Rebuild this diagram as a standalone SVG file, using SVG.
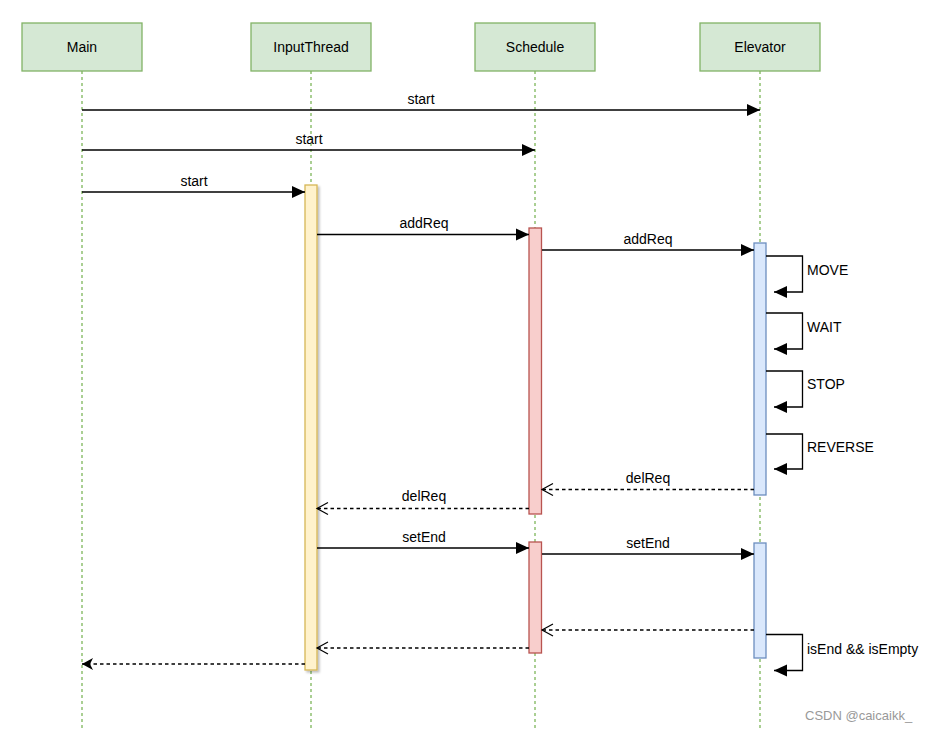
<svg xmlns="http://www.w3.org/2000/svg" width="935" height="731" viewBox="0 0 935 731">
<style>
text{font-family:"Liberation Sans",Arial,sans-serif;font-size:14px;fill:#000}
.c{text-anchor:middle}
.box{fill:#d5e8d4;stroke:#82b366;stroke-width:1.3}
.life{stroke:#8fc070;stroke-width:1.5;stroke-dasharray:3 3;fill:none}
.msg{stroke:#000;stroke-width:1.3;fill:none}
.ret{stroke:#000;stroke-width:1.3;fill:none;stroke-dasharray:3.5 3}
.act-y{fill:#fff2cc;stroke:#d6b656;stroke-width:1.3}
.act-r{fill:#f8cecc;stroke:#b85450;stroke-width:1.3}
.act-b{fill:#dae8fc;stroke:#6c8ebf;stroke-width:1.3}
.wm{font-size:13px;fill:#999}
</style>
<defs>
<marker id="block" markerUnits="userSpaceOnUse" markerWidth="14" markerHeight="14" refX="13" refY="6" orient="auto" overflow="visible">
<path d="M0,0 L13,6 L0,12 z" fill="#000"/>
</marker>
<marker id="open" markerUnits="userSpaceOnUse" markerWidth="14" markerHeight="14" refX="11" refY="6" orient="auto" overflow="visible">
<path d="M0,0 L11,6 L0,12" fill="none" stroke="#000" stroke-width="1.2"/>
</marker>
<marker id="classic" markerUnits="userSpaceOnUse" markerWidth="14" markerHeight="14" refX="11" refY="6" orient="auto" overflow="visible">
<path d="M0,0 L11,6 L0,12 L3,6 z" fill="#000"/>
</marker>
<filter id="sh" x="-50%" y="-5%" width="200%" height="110%">
<feDropShadow dx="2" dy="2" stdDeviation="1.2" flood-color="#000" flood-opacity="0.25"/>
</filter>
</defs>

<g id="lifelines">
<line class="life" x1="82" y1="71" x2="82" y2="731"/>
<line class="life" x1="311" y1="71" x2="311" y2="731"/>
<line class="life" x1="535" y1="71" x2="535" y2="731"/>
<line class="life" x1="760" y1="71" x2="760" y2="731"/>
</g>

<g id="Main"><rect class="box" x="22" y="23" width="120" height="48"/><text class="c" x="82" y="52">Main</text></g>
<g id="InputThread"><rect class="box" x="251" y="23" width="120" height="48"/><text class="c" x="311" y="52">InputThread</text></g>
<g id="Schedule"><rect class="box" x="475" y="23" width="120" height="48"/><text class="c" x="535" y="52">Schedule</text></g>
<g id="Elevator"><rect class="box" x="700" y="23" width="120" height="48"/><text class="c" x="760" y="52">Elevator</text></g>

<g id="activations">
<rect id="act-input" class="act-y" x="305" y="185" width="12" height="485" filter="url(#sh)"/>
<rect id="act-sched1" class="act-r" x="529" y="228" width="12.5" height="286"/>
<rect id="act-sched2" class="act-r" x="529" y="542" width="12.5" height="111"/>
<rect id="act-elev1" class="act-b" x="754" y="243" width="12" height="252"/>
<rect id="act-elev2" class="act-b" x="754" y="543" width="12" height="115"/>
</g>

<g id="connectors">
<line class="msg" x1="82" y1="110" x2="760" y2="110" marker-end="url(#block)"/>
<line class="msg" x1="82" y1="150" x2="535" y2="150" marker-end="url(#block)"/>
<line class="msg" x1="82" y1="192" x2="305" y2="192" marker-end="url(#block)"/>
<line class="msg" x1="317" y1="234.5" x2="529" y2="234.5" marker-end="url(#block)"/>
<line class="msg" x1="542" y1="250" x2="754" y2="250" marker-end="url(#block)"/>
<path class="msg" d="M766,256 H802.5 V292 H774" marker-end="url(#block)"/>
<path class="msg" d="M766,313 H802.5 V349 H774" marker-end="url(#block)"/>
<path class="msg" d="M766,371 H802.5 V407 H774" marker-end="url(#block)"/>
<path class="msg" d="M766,434 H802.5 V469 H774" marker-end="url(#block)"/>
<line class="ret" x1="754" y1="489.5" x2="542" y2="489.5" marker-end="url(#open)"/>
<line class="ret" x1="529" y1="508.5" x2="317" y2="508.5" marker-end="url(#open)"/>
<line class="msg" x1="317" y1="548" x2="529" y2="548" marker-end="url(#block)"/>
<line class="msg" x1="542" y1="554" x2="754" y2="554" marker-end="url(#block)"/>
<line class="ret" x1="754" y1="630" x2="542" y2="630" marker-end="url(#open)"/>
<path class="msg" d="M766,634.5 H802.5 V670.5 H774" marker-end="url(#block)"/>
<line class="ret" x1="529" y1="648" x2="317" y2="648" marker-end="url(#open)"/>
<line class="ret" x1="305" y1="664" x2="82" y2="664" marker-end="url(#classic)"/>
</g>

<g id="labels">
<text class="c" x="421" y="104">start</text>
<text class="c" x="309" y="144">start</text>
<text class="c" x="194" y="186">start</text>
<text class="c" x="424" y="228">addReq</text>
<text class="c" x="648" y="244">addReq</text>
<text x="807" y="275">MOVE</text>
<text x="807" y="332">WAIT</text>
<text x="807" y="389">STOP</text>
<text x="807" y="452">REVERSE</text>
<text class="c" x="648" y="483">delReq</text>
<text class="c" x="424" y="501">delReq</text>
<text class="c" x="424" y="542">setEnd</text>
<text class="c" x="648" y="548">setEnd</text>
<text x="807" y="654">isEnd &amp;&amp; isEmpty</text>
</g>

<text class="wm" x="805" y="720">CSDN @caicaikk_</text>
</svg>
